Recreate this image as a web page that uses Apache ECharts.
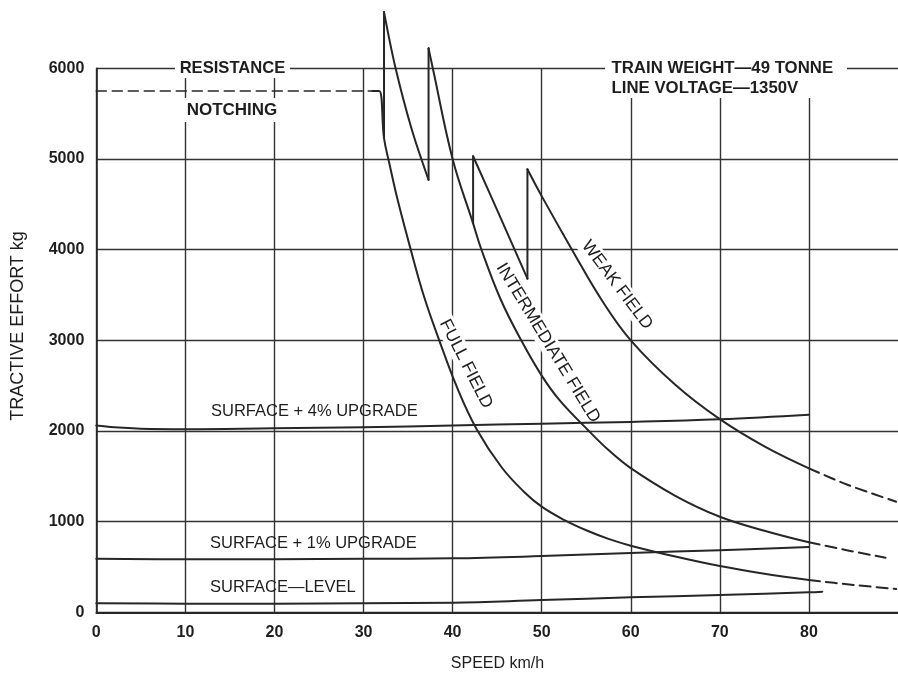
<!DOCTYPE html>
<html><head><meta charset="utf-8">
<script src="https://cdn.jsdelivr.net/npm/echarts@6/dist/echarts.min.js"></script>
<style>html,body{margin:0;padding:0;background:#fff}#c{width:898px;height:673px}</style>
</head><body><div id="c"></div>
<script>
// ---- data (speed km/h, tractive effort kg) ----
const xTicks = [0, 10, 20, 30, 40, 50, 60, 70, 80];
const yTicks = [0, 1000, 2000, 3000, 4000, 5000, 6000];

const notchingSpeed  = [0, 31.0];
const notchingEffort = [5750, 5750];

const fullSpeed  = [31.0, 31.75, 32.3, 32.9, 33.8, 35.3, 36.8, 38.5, 40.5, 42.7, 45.5, 48.0, 50.0, 52.5, 55.0, 57.5, 60.0, 65.0, 70.0, 75.0, 80.0];
const fullEffort = [5750, 5750, 5230, 4950, 4560, 4000, 3480, 3000, 2480, 2020, 1600, 1330, 1165, 1020, 905, 810, 735, 615, 510, 425, 355];
const fullDashSpeed  = [80.0, 85.0, 89.8];
const fullDashEffort = [355, 302, 256];

const interSpeed  = [37.3, 37.8, 40.0, 42.3, 43.2, 45.4, 47.7, 50.0, 52.0, 55.3, 57.5, 60.0, 65.0, 70.0, 75.0, 80.0];
const interEffort = [6220, 5990, 5000, 4290, 4010, 3450, 3000, 2610, 2340, 2000, 1790, 1590, 1285, 1054, 900, 772];
const interDashSpeed  = [80.0, 84.5, 88.6];
const interDashEffort = [772, 680, 602];

const weakSpeed  = [48.4, 50.0, 53.4, 56.7, 60.0, 65.0, 70.0, 75.0, 80.0];
const weakEffort = [4886, 4590, 4000, 3450, 3000, 2510, 2130, 1830, 1588];
const weakDashSpeed  = [80.0, 84.4, 89.8];
const weakDashEffort = [1588, 1404, 1220];

const saw1Speed  = [32.3, 33.6, 35.4, 37.3];
const saw1Effort = [6620, 6000, 5330, 4770];
const saw3Speed  = [42.3, 45.3, 48.4];
const saw3Effort = [5030, 4370, 3680];

const jumpSpeed = [32.3, 37.3, 42.3, 48.4];
const jumpLow   = [5230, 4770, 4290, 3680];
const jumpHigh  = [6620, 6220, 5030, 4886];

const grade4Speed  = [0, 2, 5, 10, 20, 30, 40, 50, 60, 70, 80];
const grade4Effort = [2060, 2040, 2025, 2020, 2030, 2040, 2060, 2080, 2100, 2130, 2180];
const grade1Speed  = [0, 10, 20, 30, 40, 50, 60, 70, 80];
const grade1Effort = [590, 585, 585, 590, 595, 620, 655, 685, 720];
const levelSpeed   = [0, 10, 20, 30, 40, 50, 60, 70, 80, 81.5];
const levelEffort  = [100, 95, 95, 100, 105, 135, 165, 190, 220, 228];

// ---- build ----
const zip = (a, b) => a.map((v, i) => [v, b[i]]);
const INK = '#262626';
const FONT = '"Liberation Sans", Arial, sans-serif';

function line(data, opts) {
  opts = opts || {};
  return {
    type: 'line', data: data, showSymbol: false, symbol: 'none', clip: false,
    smooth: opts.smooth === undefined ? 0.4 : opts.smooth,
    lineStyle: { color: INK, width: opts.width || 2, type: opts.dash || 'solid', cap: 'round', join: 'round' },
    z: 3, animation: false, silent: true
  };
}

const series = [
  line(zip(notchingSpeed, notchingEffort), { smooth: false, dash: [10, 6], width: 1.6 }),
  line(zip(fullSpeed, fullEffort), { smooth: 0.4 }),
  line(zip(fullDashSpeed, fullDashEffort), { dash: [11, 6], smooth: 0.3 }),
  line(zip(interSpeed, interEffort), { smooth: 0.4 }),
  line(zip(interDashSpeed, interDashEffort), { dash: [11, 6], smooth: 0.3 }),
  line(zip(weakSpeed, weakEffort), { smooth: 0.4 }),
  line(zip(weakDashSpeed, weakDashEffort), { dash: [11, 6], smooth: 0.3 }),
  line(zip(saw1Speed, saw1Effort), { smooth: 0.35 }),
  line(zip(saw3Speed, saw3Effort), { smooth: 0.35 }),
  line(zip(grade4Speed, grade4Effort), { smooth: 0.4 }),
  line(zip(grade1Speed, grade1Effort), { smooth: 0.4 }),
  line(zip(levelSpeed, levelEffort), { smooth: 0.4 })
];
jumpSpeed.forEach((s, i) => {
  series.push(line([[s, jumpLow[i]], [s, jumpHigh[i]]], { smooth: false }));
});

function txt(text, x, y, size, weight, align, rot, bg) {
  const el = {
    type: 'text', x: x, y: y, z: 1, silent: true,
    rotation: (rot || 0) * Math.PI / 180,
    style: {
      text: text, fill: '#1e1e1e',
      font: (weight || 'normal') + ' ' + size + 'px ' + FONT,
      align: align || 'center', verticalAlign: 'middle'
    }
  };
  if (bg) { el.style.backgroundColor = '#fff'; el.style.padding = [1, 3]; }
  return el;
}
function rect(x, y, w, h) {
  return { type: 'rect', z: 1, silent: true, shape: { x: x, y: y, width: w, height: h }, style: { fill: '#fff' } };
}

const graphic = [
  rect(175, 58, 115, 20),
  rect(182, 98, 100, 24),
  rect(605, 58, 242, 40),
  txt('RESISTANCE', 232.5, 68, 16.6, 'bold'),
  txt('NOTCHING', 232, 110.5, 17, 'bold'),
  txt('TRAIN WEIGHT—49 TONNE', 611.5, 68.5, 16.8, 'bold', 'left'),
  txt('LINE VOLTAGE—1350V', 611.5, 88, 16.8, 'bold', 'left'),
  txt('SURFACE + 4% UPGRADE', 211, 411.5, 16.5, 'normal', 'left'),
  txt('SURFACE + 1% UPGRADE', 210, 543.5, 16.5, 'normal', 'left'),
  txt('SURFACE—LEVEL', 210, 587, 16.5, 'normal', 'left'),
  txt('FULL FIELD', 466, 364, 17.5, 'normal', 'center', -63, true),
  txt('INTERMEDIATE FIELD', 548, 343, 17.5, 'normal', 'center', -58.5, true),
  txt('WEAK FIELD', 617, 285, 17.5, 'normal', 'center', -53, true),
  txt('TRACTIVE EFFORT kg', 18.5, 326, 18, 'normal', 'center', 90),
  txt('SPEED km/h', 497.5, 664, 16, 'normal', 'center')
];

const chart = echarts.init(document.getElementById('c'), null, { renderer: 'canvas' });
chart.setOption({
  backgroundColor: '#fff',
  animation: false,
  grid: { left: 96.3, top: 68.3, width: 804, height: 544, containLabel: false },
  xAxis: {
    type: 'value', min: 0, max: 90, interval: 10,
    axisLine: { show: true, onZero: false, lineStyle: { color: INK, width: 1.8 } },
    axisTick: { show: false },
    axisLabel: {
      margin: 12, color: '#1e1e1e', fontSize: 16, fontWeight: 'bold', fontFamily: FONT,
      showMaxLabel: false,
      formatter: v => (xTicks.indexOf(v) >= 0 ? String(v) : '')
    },
    splitLine: { show: true, showMaxLine: false, lineStyle: { color: '#333', width: 1.4 } }
  },
  yAxis: {
    type: 'value', min: 0, max: 6000, interval: 1000,
    axisLine: { show: true, onZero: false, lineStyle: { color: INK, width: 1.6 } },
    axisTick: { show: false },
    axisLabel: {
      margin: 12, color: '#1e1e1e', fontSize: 16, fontWeight: 'bold', fontFamily: FONT,
      formatter: v => (yTicks.indexOf(v) >= 0 ? String(v) : '')
    },
    splitLine: { show: true, lineStyle: { color: '#333', width: 1.4 } }
  },
  graphic: { elements: graphic },
  series: series
});
</script>
</body></html>
